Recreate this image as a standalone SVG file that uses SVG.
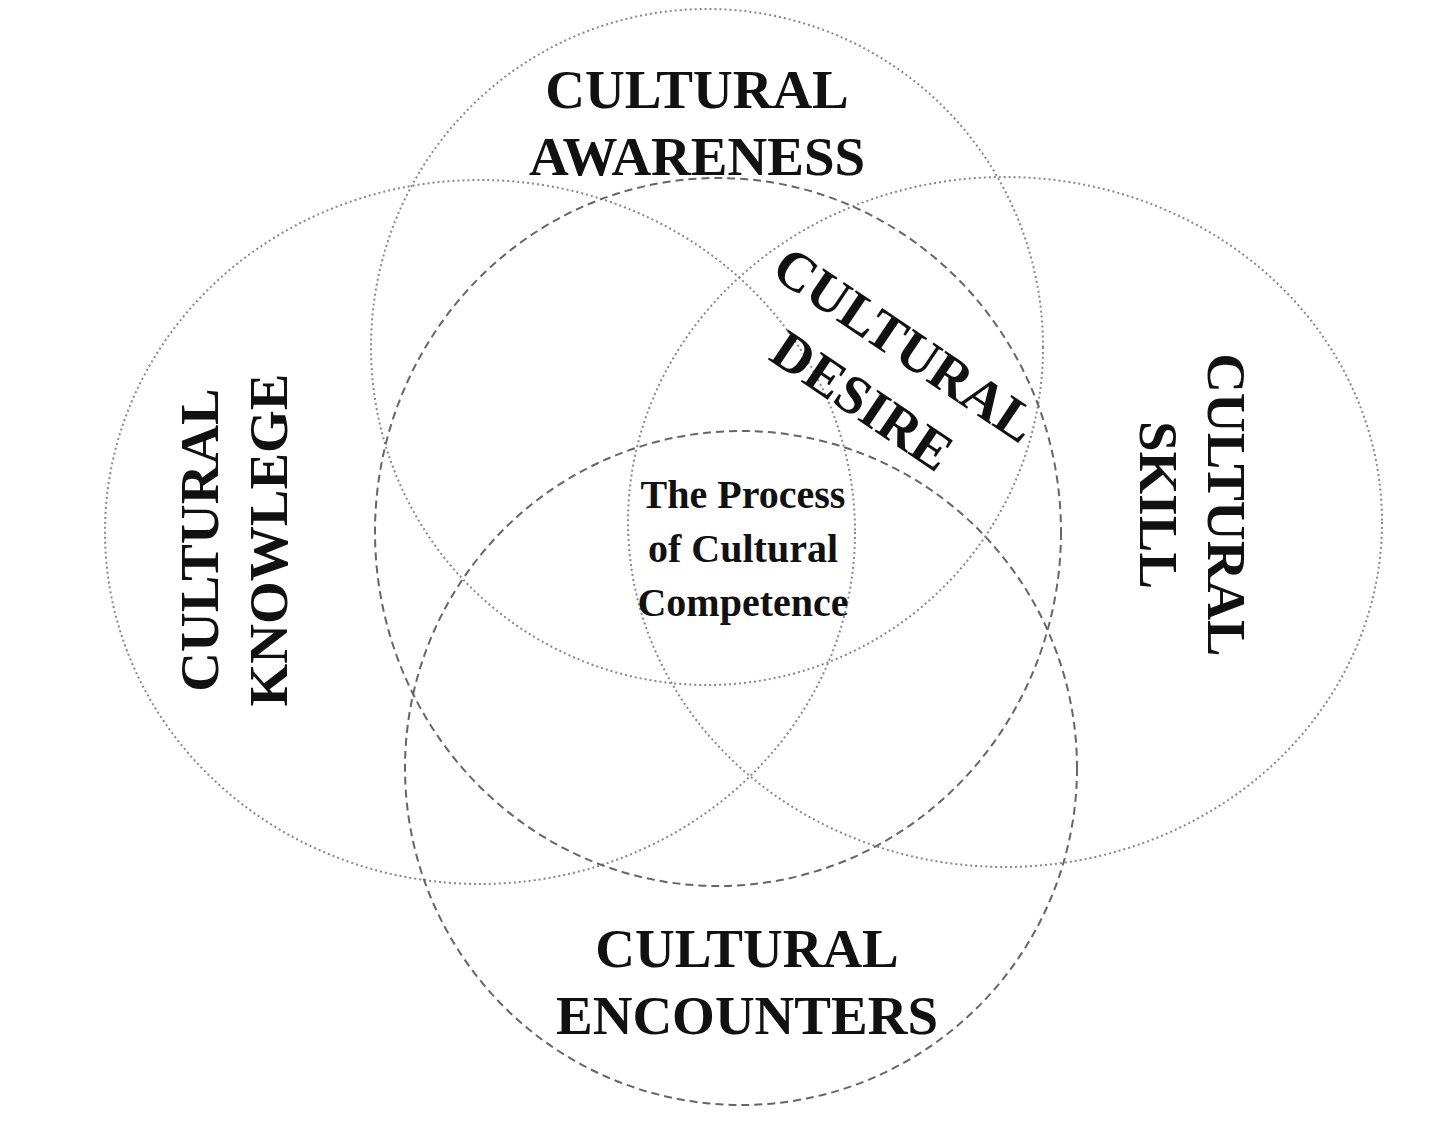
<svg xmlns="http://www.w3.org/2000/svg" width="1440" height="1126" viewBox="0 0 1440 1126">
<style>
.dot{fill:none;stroke:#888;stroke-width:2;stroke-dasharray:2 3}
.dash{fill:none;stroke:#666;stroke-width:2;stroke-dasharray:8 5}
.t{font-family:"Liberation Serif",serif;font-weight:bold;font-size:55px;fill:#111;text-anchor:middle}
.s{font-family:"Liberation Serif",serif;font-weight:bold;font-size:40px;fill:#111;text-anchor:middle}
</style>
<rect width="1440" height="1126" fill="#fff"/>
<g id="knowledge"><ellipse class="dot" cx="480" cy="532" rx="375" ry="352"/>
<text class="t" transform="translate(218,540) rotate(-90)">CULTURAL</text>
<text class="t" transform="translate(287,540) rotate(-90)">KNOWLEGE</text></g>
<g id="skill"><ellipse class="dot" cx="1005" cy="522" rx="377" ry="345"/>
<text class="t" transform="translate(1208,505) rotate(90)">CULTURAL</text>
<text class="t" transform="translate(1140,505) rotate(90)">SKILL</text></g>
<g id="awareness"><ellipse class="dot" cx="707" cy="347" rx="336" ry="338"/>
<text class="t" x="697" y="108">CULTURAL</text>
<text class="t" x="697" y="175">AWARENESS</text></g>
<g id="desire"><ellipse class="dash" cx="718" cy="532" rx="343" ry="354"/>
<text class="t" transform="translate(895,360) rotate(34)">CULTURAL</text>
<text class="t" transform="translate(852,416) rotate(34)">DESIRE</text></g>
<g id="encounters"><ellipse class="dash" cx="741" cy="768" rx="336" ry="337"/>
<text class="t" x="747" y="967">CULTURAL</text>
<text class="t" x="747" y="1034">ENCOUNTERS</text></g>
<g id="center">
<text class="s" x="743" y="508">The Process</text>
<text class="s" x="743" y="562">of Cultural</text>
<text class="s" x="743" y="616">Competence</text></g>
<g id="connectors"/>
</svg>
